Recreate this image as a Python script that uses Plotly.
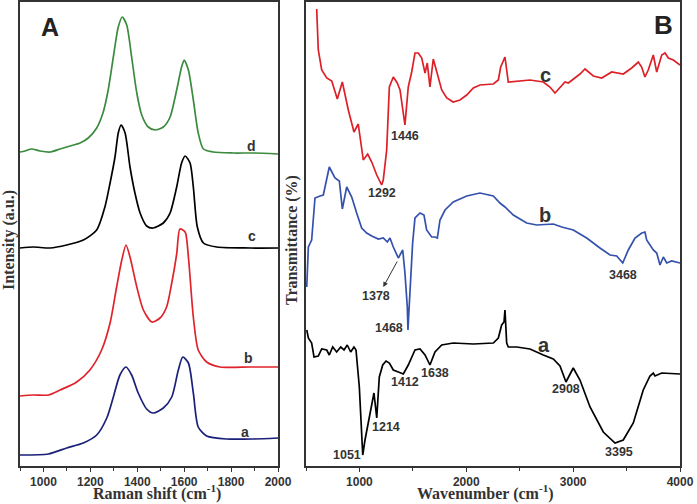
import plotly.graph_objects as go

# ---------------- Panel A: Raman spectra ----------------
ramanA_x = [900, 1021, 1099, 1170, 1227, 1270, 1298, 1326, 1352, 1376, 1404, 1440, 1468, 1511, 1547, 1575, 1594, 1618, 1639, 1660, 1696, 1781, 1895, 2000]
ramanA_y = [11, 12, 18, 23, 31, 48, 69, 91, 99, 91, 73, 57, 53, 58, 69, 96, 109, 103, 73, 39, 30, 27, 27, 28]

ramanB_x = [900, 957, 1021, 1071, 1142, 1198, 1248, 1284, 1312, 1334, 1352, 1369, 1398, 1426, 1462, 1497, 1525, 1547, 1568, 1582, 1604, 1618, 1639, 1660, 1696, 1753, 1881, 2000]
ramanB_y = [70, 71, 71, 76, 84, 96, 116, 143, 179, 206, 221, 209, 179, 156, 144, 148, 159, 183, 212, 237, 234, 209, 149, 116, 104, 99, 99, 99]

ramanC_x = [900, 957, 1028, 1099, 1170, 1227, 1262, 1284, 1305, 1319, 1331, 1348, 1369, 1390, 1412, 1440, 1468, 1511, 1540, 1568, 1589, 1604, 1625, 1639, 1656, 1682, 1739, 1881, 2000]
ramanC_y = [218, 219, 218, 221, 226, 236, 259, 283, 309, 333, 341, 333, 299, 273, 253, 240, 238, 243, 253, 279, 303, 310, 303, 279, 239, 223, 219, 218, 218]

ramanD_x = [900, 921, 950, 985, 1028, 1071, 1113, 1156, 1191, 1227, 1255, 1276, 1298, 1319, 1336, 1355, 1376, 1398, 1419, 1447, 1476, 1511, 1540, 1568, 1589, 1600, 1618, 1639, 1660, 1682, 1724, 1809, 1895, 2000]
ramanD_y = [314, 315, 317, 315, 314, 317, 320, 323, 328, 338, 354, 376, 409, 439, 449, 441, 409, 373, 351, 339, 336, 339, 349, 376, 399, 406, 396, 366, 333, 317, 314, 313, 313, 312]

# ---------------- Panel B: FTIR spectra ----------------
irA_x = [507, 522, 553, 575, 615, 647, 694, 718, 750, 787, 825, 856, 886, 918, 949, 968, 999, 1031, 1052, 1083, 1115, 1136, 1162, 1186, 1218, 1249, 1280, 1317, 1364, 1411, 1457, 1520, 1567, 1614, 1660, 1707, 1770, 1878, 2066, 2253, 2300, 2331, 2353, 2362, 2378, 2393, 2472, 2596, 2721, 2814, 2877, 2933, 3001, 3064, 3158, 3282, 3392, 3469, 3563, 3656, 3719, 3750, 3766, 3829, 4000]
irA_y = [136, 128, 123, 109, 110, 117, 116, 111, 119, 114, 119, 116, 121, 114, 119, 116, 79, 11, 26, 43, 63, 73, 48, 89, 101, 105, 103, 96, 94, 92, 101, 116, 117, 111, 101, 114, 121, 123, 122, 123, 128, 141, 144, 156, 123, 119, 119, 117, 111, 107, 100, 84, 98, 86, 59, 34, 23, 26, 43, 76, 90, 93, 90, 93, 92]

irB_x = [507, 522, 553, 584, 631, 662, 718, 771, 812, 840, 881, 928, 974, 1021, 1068, 1115, 1177, 1223, 1261, 1286, 1317, 1364, 1405, 1426, 1448, 1454, 1469, 1498, 1520, 1567, 1604, 1629, 1676, 1707, 1729, 1754, 1801, 1878, 2004, 2128, 2253, 2315, 2362, 2440, 2565, 2659, 2814, 2893, 3001, 3127, 3251, 3345, 3408, 3464, 3516, 3579, 3642, 3672, 3688, 3750, 3782, 3813, 3844, 3876, 3922, 4000]
irB_y = [179, 219, 226, 268, 270, 271, 299, 288, 285, 257, 279, 269, 253, 238, 233, 230, 227, 228, 224, 228, 219, 208, 216, 193, 159, 136, 166, 223, 248, 253, 251, 236, 229, 229, 228, 246, 256, 264, 270, 273, 270, 263, 259, 251, 243, 241, 242, 239, 236, 228, 218, 211, 210, 203, 216, 228, 233, 234, 226, 216, 213, 201, 209, 203, 205, 203]

irC_x = [600, 615, 647, 694, 741, 793, 840, 896, 949, 989, 1036, 1077, 1115, 1162, 1208, 1223, 1255, 1280, 1317, 1354, 1380, 1426, 1457, 1489, 1520, 1551, 1583, 1614, 1635, 1660, 1691, 1723, 1770, 1817, 1878, 1941, 2004, 2066, 2128, 2253, 2300, 2322, 2362, 2393, 2472, 2596, 2721, 2783, 2830, 2877, 2924, 2955, 3017, 3064, 3111, 3189, 3267, 3361, 3469, 3548, 3610, 3641, 3672, 3703, 3750, 3782, 3829, 3860, 3891, 3938, 4000]
irC_y = [457, 416, 396, 388, 385, 367, 384, 356, 334, 342, 306, 312, 304, 291, 281, 286, 316, 379, 389, 383, 376, 341, 379, 394, 413, 413, 408, 393, 403, 379, 407, 394, 376, 368, 364, 366, 371, 378, 381, 382, 386, 399, 409, 384, 385, 386, 384, 379, 373, 379, 384, 383, 388, 392, 397, 390, 388, 394, 392, 398, 404, 399, 389, 396, 411, 394, 411, 413, 408, 406, 401]

# labels
ramanLabels = ["a", "b", "c", "d"]
ramanLabel_x = [1859, 1876, 1889, 1889]
ramanLabel_y = [34, 108, 230, 320]

irCurveLabels = ["a", "b", "c"]
irCurveLabel_x = [2727, 2737, 2737]
irCurveLabel_y = [121, 251, 391]

irPeakLabels = ["1051", "1214", "1412", "1638", "2908", "3395", "1468", "3468", "1292", "1446", "1378"]
irPeak_x = [881, 1249, 1426, 1707, 2933, 3429, 1277, 3469, 1208, 1426, 1155]
irPeak_y = [11, 39, 84, 93, 77, 14, 138, 191, 273, 330, 170]

AX = [1000, 1200, 1400, 1600, 1800, 2000]
BX = [1000, 2000, 3000, 4000]

# target picture size; the rendered page comes out ~2% narrower, so the figure is laid out a bit wider
TW, TH = 697, 504
W, H = 711, 504


def px(x):
    return x / TW


def py(y):
    return 1 - y / TH


fig = go.Figure()

lw = 1.7
fig.add_trace(go.Scatter(x=ramanA_x, y=ramanA_y, mode="lines", line=dict(color="#1b2078", width=lw, shape="spline", smoothing=0.7), xaxis="x", yaxis="y", showlegend=False))
fig.add_trace(go.Scatter(x=ramanB_x, y=ramanB_y, mode="lines", line=dict(color="#e0232b", width=lw, shape="spline", smoothing=0.7), xaxis="x", yaxis="y", showlegend=False))
fig.add_trace(go.Scatter(x=ramanC_x, y=ramanC_y, mode="lines", line=dict(color="#000000", width=lw, shape="spline", smoothing=0.7), xaxis="x", yaxis="y", showlegend=False))
fig.add_trace(go.Scatter(x=ramanD_x, y=ramanD_y, mode="lines", line=dict(color="#3b8b3f", width=lw, shape="spline", smoothing=0.7), xaxis="x", yaxis="y", showlegend=False))

fig.add_trace(go.Scatter(x=irA_x, y=irA_y, mode="lines", line=dict(color="#000000", width=lw), xaxis="x2", yaxis="y2", showlegend=False))
fig.add_trace(go.Scatter(x=irB_x, y=irB_y, mode="lines", line=dict(color="#3451ad", width=lw), xaxis="x2", yaxis="y2", showlegend=False))
fig.add_trace(go.Scatter(x=irC_x, y=irC_y, mode="lines", line=dict(color="#dd2027", width=lw), xaxis="x2", yaxis="y2", showlegend=False))

SANS = "Arial, Liberation Sans"
ann = []
for t, x, y in zip(ramanLabels, ramanLabel_x, ramanLabel_y):
    ann.append(dict(text=t, x=x, y=y, xref="x", yref="y", showarrow=False, xanchor="center", yanchor="middle",
                    font=dict(family=SANS, size=14, color="#333333", weight="bold")))
for t, x, y in zip(irCurveLabels, irCurveLabel_x, irCurveLabel_y):
    ann.append(dict(text=t, x=x, y=y, xref="x2", yref="y2", showarrow=False, xanchor="center", yanchor="middle",
                    font=dict(family=SANS, size=20, color="#333333", weight="bold")))
for t, x, y in zip(irPeakLabels, irPeak_x, irPeak_y):
    ann.append(dict(text=t, x=x, y=y, xref="x2", yref="y2", showarrow=False, xanchor="center", yanchor="middle",
                    font=dict(family=SANS, size=12.5, color="#333333", weight="bold")))
# arrow pointing to the 1378 shoulder label
ann.append(dict(text="", x=1223, y=179, ax=1361, ay=206, xref="x2", yref="y2", axref="x2", ayref="y2",
                showarrow=True, arrowhead=2, arrowsize=1, arrowwidth=1, arrowcolor="#333333"))
# panel letters
ann.append(dict(text="A", x=px(50), y=py(27), xref="paper", yref="paper", showarrow=False, xanchor="center", yanchor="middle",
                font=dict(family=SANS, size=25, color="#222222", weight="bold")))
ann.append(dict(text="B", x=px(663), y=py(25), xref="paper", yref="paper", showarrow=False, xanchor="center", yanchor="middle",
                font=dict(family=SANS, size=26, color="#222222", weight="bold")))
# axis titles
tfont = dict(family="Times New Roman, Liberation Serif", size=16, color="#333333", weight="bold")
ann.append(dict(text="Raman shift (cm<sup>-1</sup>)", x=px(157), y=py(492), xref="paper", yref="paper", showarrow=False,
                xanchor="center", yanchor="middle", font=tfont))
ann.append(dict(text="Wavenumber (cm<sup>-1</sup>)", x=px(485), y=py(492), xref="paper", yref="paper", showarrow=False,
                xanchor="center", yanchor="middle", font=tfont))
ann.append(dict(text="Intensity (a.u.)", x=px(9), y=py(240), xref="paper", yref="paper", showarrow=False, textangle=-90,
                xanchor="center", yanchor="middle", font=tfont))
ann.append(dict(text="Transmittance (%)", x=px(292), y=py(240), xref="paper", yref="paper", showarrow=False, textangle=-90,
                xanchor="center", yanchor="middle", font=tfont))

ydom = [py(466), py(2)]
tickfont = dict(family=SANS, size=12, color="#333333", weight="bold")
linecommon = dict(showgrid=False, zeroline=False, showline=True, linecolor="#333333", linewidth=1.5, mirror=True)

fig.update_layout(
    width=W, height=H, autosize=False,
    margin=dict(l=0, r=0, t=0, b=0),
    paper_bgcolor="white", plot_bgcolor="white",
    annotations=ann,
    xaxis=dict(domain=[px(20), px(278)], range=[900, 2000], tickmode="array", tickvals=AX,
               ticktext=[str(v) for v in AX], ticks="outside", ticklen=4, tickwidth=1, tickcolor="#333333", tickfont=tickfont,
               minor=dict(dtick=100, tick0=900, ticks="outside", ticklen=3, tickcolor="#333333"), anchor="y", **linecommon),
    yaxis=dict(domain=ydom, range=[0, 464], showticklabels=False, ticks="", anchor="x", **linecommon),
    xaxis2=dict(domain=[px(306), px(680)], range=[500, 4000], tickmode="array", tickvals=BX,
                ticktext=[str(v) for v in BX], ticks="outside", ticklen=4, tickwidth=1, tickcolor="#333333", tickfont=tickfont,
                minor=dict(dtick=500, tick0=500, ticks="outside", ticklen=3, tickcolor="#333333"), anchor="y2", **linecommon),
    yaxis2=dict(domain=ydom, range=[0, 464], showticklabels=False, ticks="", anchor="x2", **linecommon),
)

# remove the browser's default 8px body margin so the figure starts at the window's corner
fig.write_html("out.html", config={"responsive": False, "displayModeBar": False},
               post_script="document.body.style.margin='0';document.body.style.overflow='hidden';")
